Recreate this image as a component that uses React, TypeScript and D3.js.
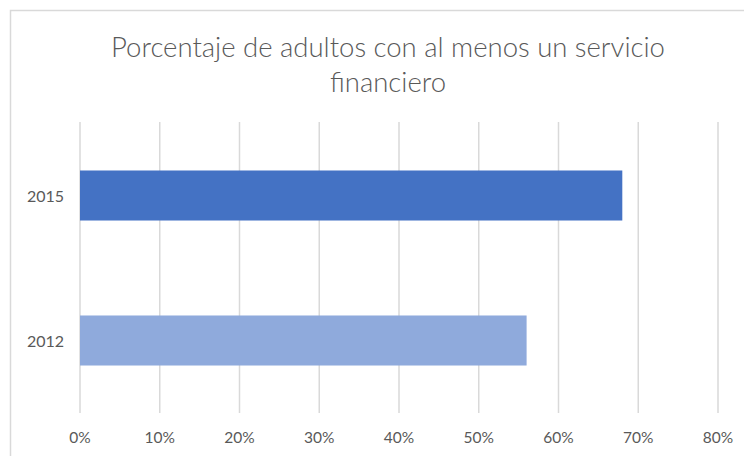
import React, { useEffect, useRef } from "react";
import * as d3 from "d3";

const years = ["2015", "2012"];
const values = [0.68, 0.56];
const barColors = ["#4472c4", "#8faadc"];
const ticks = [0, 0.1, 0.2, 0.3, 0.4, 0.5, 0.6, 0.7, 0.8];
const titleLines = ["Porcentaje de adultos con al menos un servicio", "financiero"];

export default function App() {
  const ref = useRef<SVGSVGElement>(null);

  useEffect(() => {
    const svg = d3.select(ref.current);
    svg.selectAll("*").remove();

    const font = "Lato, 'Open Sans', sans-serif";

    // chart frame (cut off by the window on the right and bottom)
    svg
      .append("rect")
      .attr("x", 10.5)
      .attr("y", 10.5)
      .attr("width", 800)
      .attr("height", 500)
      .attr("fill", "#fff")
      .attr("stroke", "#d9d9d9")
      .attr("stroke-width", 1.5);

    var x = d3.scaleLinear().domain([0, 0.8]).range([80, 718]);
    var y = d3
      .scaleBand()
      .domain(years)
      .range([123, 413])
      .paddingInner(0.655)
      .paddingOuter(0.3275);

    // gridlines
    svg
      .selectAll("line.grid")
      .data(ticks)
      .enter()
      .append("line")
      .attr("class", "grid")
      .attr("x1", (d) => x(d))
      .attr("x2", (d) => x(d))
      .attr("y1", 122)
      .attr("y2", 413)
      .attr("stroke", "#d9d9d9")
      .attr("stroke-width", 1.5);

    // bars
    svg
      .selectAll("rect.bar")
      .data(values)
      .enter()
      .append("rect")
      .attr("class", "bar")
      .attr("x", x(0))
      .attr("y", (d, i) => y(years[i]) as number)
      .attr("width", (d) => x(d) - x(0))
      .attr("height", y.bandwidth())
      .attr("fill", (d, i) => barColors[i]);

    // x tick labels
    svg
      .selectAll("text.xt")
      .data(ticks)
      .enter()
      .append("text")
      .attr("class", "xt")
      .attr("x", (d) => x(d))
      .attr("y", 443)
      .attr("text-anchor", "middle")
      .attr("font-family", font)
      .attr("font-size", 15.5)
      .attr("fill", "#595959")
      .text((d) => Math.round(d * 100) + "%");

    // y labels
    svg
      .selectAll("text.yt")
      .data(years)
      .enter()
      .append("text")
      .attr("class", "yt")
      .attr("x", 64)
      .attr("y", (d) => (y(d) as number) + y.bandwidth() / 2 + 6)
      .attr("text-anchor", "end")
      .attr("font-family", font)
      .attr("font-size", 16)
      .attr("fill", "#595959")
      .text((d) => d);

    // title
    svg
      .selectAll("text.title")
      .data(titleLines)
      .enter()
      .append("text")
      .attr("class", "title")
      .attr("x", 388)
      .attr("y", (d, i) => 57 + i * 35)
      .attr("text-anchor", "middle")
      .attr("font-family", font)
      .attr("font-weight", 300)
      .attr("font-size", 27.5)
      .attr("fill", "#595959")
      .text((d) => d);
  }, []);

  return (
    <svg
      ref={ref}
      width={744}
      height={456}
      style={{ position: "absolute", left: 0, top: 0, display: "block" }}
    />
  );
}
